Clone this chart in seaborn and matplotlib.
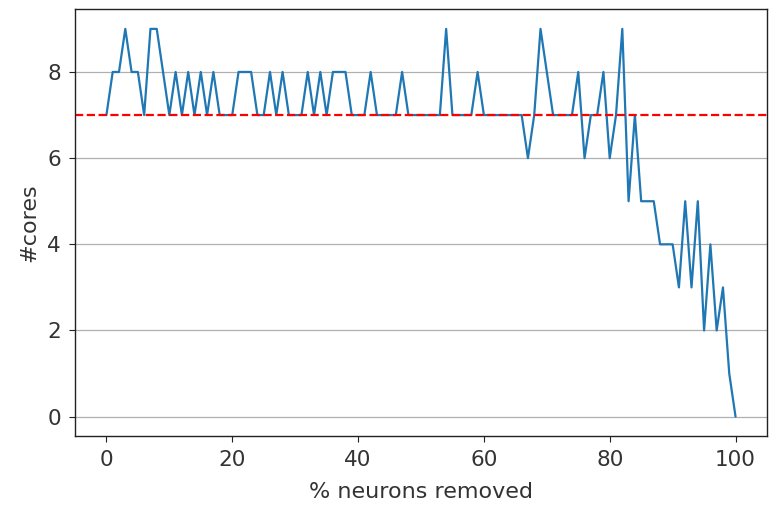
import numpy as np
import pandas as pd
import matplotlib
matplotlib.use("Agg")
import matplotlib.pyplot as plt
import seaborn as sns

# percent of neurons removed (one step per percent)
pct_removed = list(range(0, 101))

# number of cores found at each step
n_cores = [
    7, 8, 8, 9, 8, 8, 7, 9, 9, 8,   # 0-9
    7, 8, 7, 8, 7, 8, 7, 8, 7, 7,   # 10-19
    7, 8, 8, 8, 7, 7, 8, 7, 8, 7,   # 20-29
    7, 7, 8, 7, 8, 7, 8, 8, 8, 7,   # 30-39
    7, 7, 8, 7, 7, 7, 7, 8, 7, 7,   # 40-49
    7, 7, 7, 7, 9, 7, 7, 7, 7, 8,   # 50-59
    7, 7, 7, 7, 7, 7, 7, 6, 7, 9,   # 60-69
    8, 7, 7, 7, 7, 8, 6, 7, 7, 8,   # 70-79
    6, 7, 9, 5, 7, 5, 5, 5, 4, 4,   # 80-89
    4, 3, 5, 3, 5, 2, 4, 2, 3, 1,   # 90-99
    0,                              # 100
]

baseline_cores = 7

y_ticks = [0, 2, 4, 6, 8]

df = pd.DataFrame({'pct': pct_removed, 'cores': n_cores})

sns.set_style('ticks')
plt.rcParams['font.family'] = ['DejaVu Sans']

fig = plt.figure(figsize=(7.76, 5.13), dpi=100)
ax = fig.add_axes([0.0966, 0.15, 0.8918, 0.8315])

sns.lineplot(data=df, x='pct', y='cores', color='#1f77b4', linewidth=1.6, ax=ax)
ax.axhline(baseline_cores, color='red', linestyle='--', linewidth=1.6)

ax.set_yticks(y_ticks)
ax.yaxis.grid(True, color='#b0b0b0', linewidth=0.9)
ax.set_axisbelow(True)

for side in ['left', 'right', 'top', 'bottom']:
    ax.spines[side].set_visible(True)
    ax.spines[side].set_color('#222222')
    ax.spines[side].set_linewidth(1.0)

ax.tick_params(axis='both', labelsize=15.5, length=4, pad=6,
               color='#222222', labelcolor='#333333')
ax.set_xlabel('% neurons removed', fontsize=16, color='#333333', labelpad=9)
ax.set_ylabel('#cores', fontsize=16, color='#333333', labelpad=6)

fig.savefig('out.png', dpi=100)
